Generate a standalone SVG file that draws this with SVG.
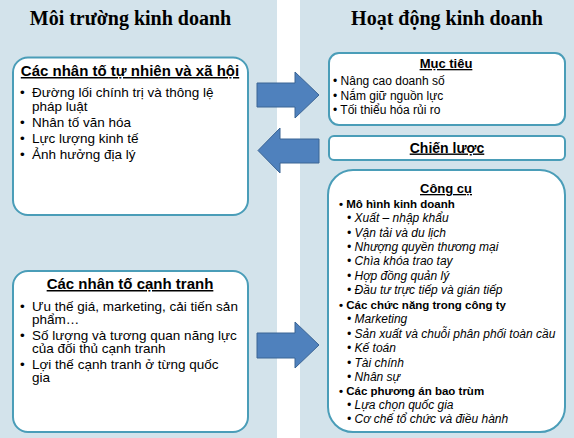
<svg xmlns="http://www.w3.org/2000/svg" width="574" height="438" viewBox="0 0 574 438">
<style>
.panel{fill:#d3e3eb}
.box{fill:#ffffff;stroke:#4a9db8;stroke-width:2}
.arrow{fill:#4f81bd;stroke:#3a6494;stroke-width:1}
.title{font-family:"Liberation Serif","Times New Roman",serif;font-weight:bold;font-size:20px;fill:#000;text-anchor:middle}
.h{font-family:"Liberation Sans",Arial,sans-serif;font-weight:bold;text-decoration:underline;fill:#000;text-anchor:middle}
.t{font-family:"Liberation Sans",Arial,sans-serif;fill:#000}
.b14{font-size:13.5px}
.s12{font-size:12px}
.l1{font-size:11.5px;font-weight:bold}
.l2{font-size:12px;font-style:italic}
</style>
<rect x="0" y="0" width="574" height="438" fill="#ffffff"/>
<rect class="panel" x="0" y="0" width="277" height="438"/>
<rect class="panel" x="300" y="0" width="274" height="438"/>
<text class="title" x="130.5" y="25">Môi trường kinh doanh</text>
<text class="title" x="447" y="25">Hoạt động kinh doanh</text>

<g id="connectors">
<path class="arrow" d="M257,83 L295,83 L295,72 L319,95 L295,118 L295,107 L257,107 Z"/>
<path class="arrow" d="M319,139 L280,139 L280,128 L258,150.5 L280,173 L280,163 L319,163 Z"/>
<path class="arrow" d="M257,333 L295,333 L295,322 L319,345 L295,368 L295,358 L257,358 Z"/>
</g>

<g id="node-tunhien">
<rect class="box" x="13" y="57.5" width="235" height="157.5" rx="15"/>
<text class="h" x="130" y="76" font-size="15">Các nhân tố tự nhiên và xã hội</text>
<g class="t b14">
<text x="20" y="97">•</text><text x="32" y="97">Đường lối chính trị và thông lệ</text>
<text x="32" y="110.5">pháp luật</text>
<text x="20" y="127">•</text><text x="32" y="127">Nhân tố văn hóa</text>
<text x="20" y="143">•</text><text x="32" y="143">Lực lượng kinh tế</text>
<text x="20" y="158.5">•</text><text x="32" y="158.5">Ảnh hưởng địa lý</text>
</g>
</g>

<g id="node-canhtranh">
<rect class="box" x="13" y="271" width="235" height="161" rx="15"/>
<text class="h" x="130" y="289" font-size="15">Các nhân tố cạnh tranh</text>
<g class="t b14">
<text x="20" y="311">•</text><text x="32" y="311">Ưu thế giá, marketing, cải tiến sản</text>
<text x="32" y="323.5">phẩm…</text>
<text x="20" y="340">•</text><text x="32" y="340">Số lượng và tương quan năng lực</text>
<text x="32" y="352.5">của đối thủ cạnh tranh</text>
<text x="20" y="369">•</text><text x="32" y="369">Lợi thế cạnh tranh ở từng quốc</text>
<text x="32" y="381.5">gia</text>
</g>
</g>

<g id="node-muctieu">
<rect class="box" x="329" y="53" width="236" height="72" rx="10"/>
<text class="h" x="446" y="68" font-size="13">Mục tiêu</text>
<g class="t s12">
<text x="333" y="85">• Nâng cao doanh số</text>
<text x="333" y="100">• Nắm giữ nguồn lực</text>
<text x="333" y="114">• Tối thiểu hóa rủi ro</text>
</g>
</g>

<g id="node-chienluoc">
<rect class="box" x="329" y="136" width="236" height="24" rx="5"/>
<text class="h" x="447" y="152.5" font-size="14">Chiến lược</text>
</g>

<g id="node-congcu">
<rect class="box" x="328" y="170" width="237" height="262" rx="25"/>
<text class="h" x="446" y="193" font-size="13">Công cụ</text>
<g class="t">
<text class="l1" x="339" y="208">• Mô hình kinh doanh</text>
<text class="l2" x="347" y="222.3">• Xuất – nhập khẩu</text>
<text class="l2" x="347" y="236.6">• Vận tải và du lịch</text>
<text class="l2" x="347" y="250.9">• Nhượng quyền thương mại</text>
<text class="l2" x="347" y="265.2">• Chìa khóa trao tay</text>
<text class="l2" x="347" y="279.5">• Hợp đồng quản lý</text>
<text class="l2" x="347" y="293.8">• Đầu tư trực tiếp và gián tiếp</text>
<text class="l1" x="339" y="309">• Các chức năng trong công ty</text>
<text class="l2" x="347" y="323">• Marketing</text>
<text class="l2" x="347" y="337.5">• Sản xuất và chuỗi phân phối toàn cầu</text>
<text class="l2" x="347" y="352">• Kế toán</text>
<text class="l2" x="347" y="366.5">• Tài chính</text>
<text class="l2" x="347" y="380.5">• Nhân sự</text>
<text class="l1" x="339" y="395">• Các phương án bao trùm</text>
<text class="l2" x="347" y="409">• Lựa chọn quốc gia</text>
<text class="l2" x="347" y="423">• Cơ chế tổ chức và điều hành</text>
</g>
</g>
</svg>
